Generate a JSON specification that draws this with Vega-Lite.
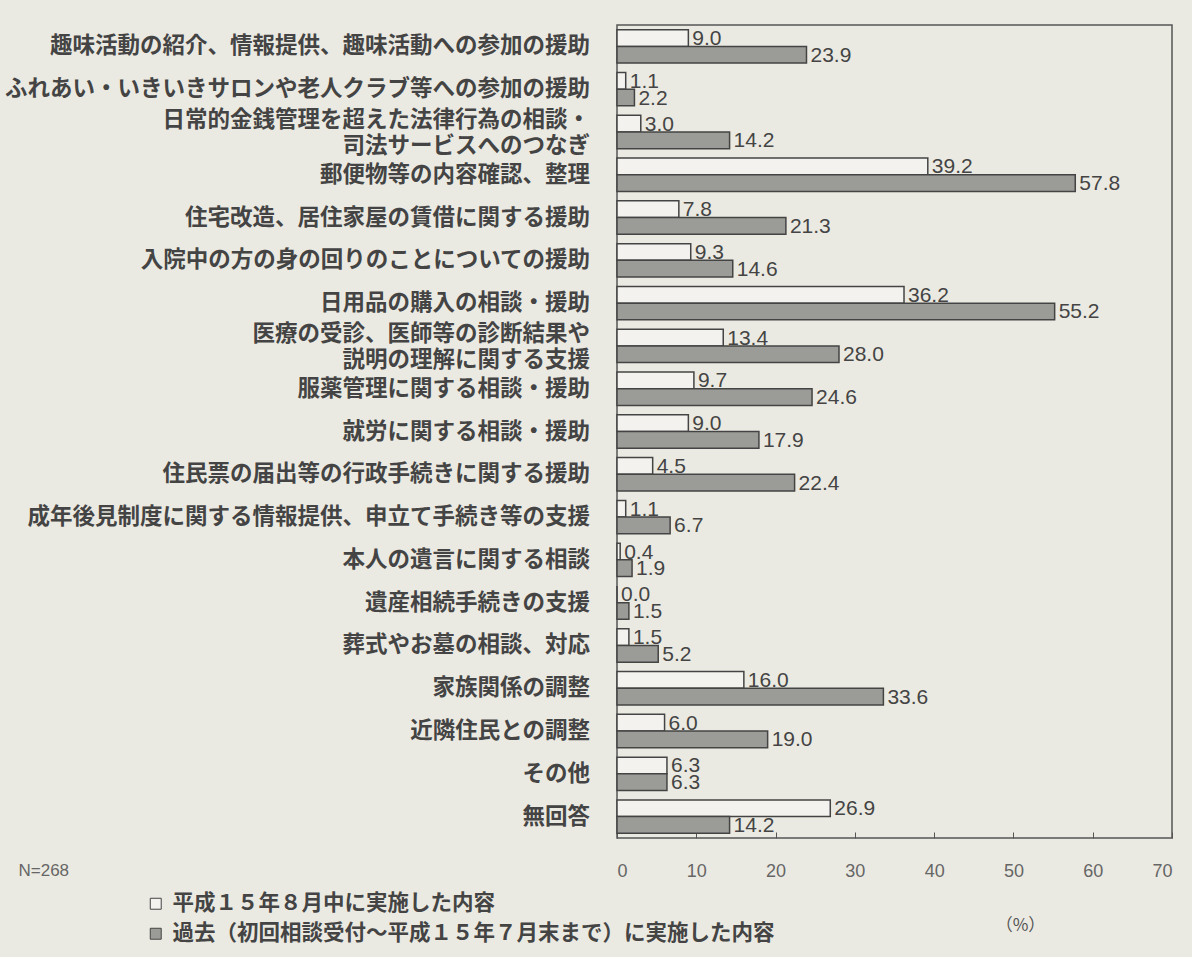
{
  "$schema": "https://vega.github.io/schema/vega-lite/v6.json",
  "autosize": {"type": "none"},
  "width": 555,
  "height": 813,
  "padding": {"left": 617, "top": 25, "right": 20, "bottom": 119},
  "background": "#ebeae2",
  "config": {"view": {"stroke": "#555555", "strokeWidth": 1.5}, "font": "Noto Sans CJK JP"},
  "data": {"values": [
    {"cat": "趣味活動の紹介、情報提供、趣味活動への参加の援助", "series": "平成１５年８月中に実施した内容", "value": 9.0},
    {"cat": "趣味活動の紹介、情報提供、趣味活動への参加の援助", "series": "過去（初回相談受付～平成１５年７月末まで）に実施した内容", "value": 23.9},
    {"cat": "ふれあい・いきいきサロンや老人クラブ等への参加の援助", "series": "平成１５年８月中に実施した内容", "value": 1.1},
    {"cat": "ふれあい・いきいきサロンや老人クラブ等への参加の援助", "series": "過去（初回相談受付～平成１５年７月末まで）に実施した内容", "value": 2.2},
    {"cat": "日常的金銭管理を超えた法律行為の相談・|司法サービスへのつなぎ", "series": "平成１５年８月中に実施した内容", "value": 3.0},
    {"cat": "日常的金銭管理を超えた法律行為の相談・|司法サービスへのつなぎ", "series": "過去（初回相談受付～平成１５年７月末まで）に実施した内容", "value": 14.2},
    {"cat": "郵便物等の内容確認、整理", "series": "平成１５年８月中に実施した内容", "value": 39.2},
    {"cat": "郵便物等の内容確認、整理", "series": "過去（初回相談受付～平成１５年７月末まで）に実施した内容", "value": 57.8},
    {"cat": "住宅改造、居住家屋の賃借に関する援助", "series": "平成１５年８月中に実施した内容", "value": 7.8},
    {"cat": "住宅改造、居住家屋の賃借に関する援助", "series": "過去（初回相談受付～平成１５年７月末まで）に実施した内容", "value": 21.3},
    {"cat": "入院中の方の身の回りのことについての援助", "series": "平成１５年８月中に実施した内容", "value": 9.3},
    {"cat": "入院中の方の身の回りのことについての援助", "series": "過去（初回相談受付～平成１５年７月末まで）に実施した内容", "value": 14.6},
    {"cat": "日用品の購入の相談・援助", "series": "平成１５年８月中に実施した内容", "value": 36.2},
    {"cat": "日用品の購入の相談・援助", "series": "過去（初回相談受付～平成１５年７月末まで）に実施した内容", "value": 55.2},
    {"cat": "医療の受診、医師等の診断結果や|説明の理解に関する支援", "series": "平成１５年８月中に実施した内容", "value": 13.4},
    {"cat": "医療の受診、医師等の診断結果や|説明の理解に関する支援", "series": "過去（初回相談受付～平成１５年７月末まで）に実施した内容", "value": 28.0},
    {"cat": "服薬管理に関する相談・援助", "series": "平成１５年８月中に実施した内容", "value": 9.7},
    {"cat": "服薬管理に関する相談・援助", "series": "過去（初回相談受付～平成１５年７月末まで）に実施した内容", "value": 24.6},
    {"cat": "就労に関する相談・援助", "series": "平成１５年８月中に実施した内容", "value": 9.0},
    {"cat": "就労に関する相談・援助", "series": "過去（初回相談受付～平成１５年７月末まで）に実施した内容", "value": 17.9},
    {"cat": "住民票の届出等の行政手続きに関する援助", "series": "平成１５年８月中に実施した内容", "value": 4.5},
    {"cat": "住民票の届出等の行政手続きに関する援助", "series": "過去（初回相談受付～平成１５年７月末まで）に実施した内容", "value": 22.4},
    {"cat": "成年後見制度に関する情報提供、申立て手続き等の支援", "series": "平成１５年８月中に実施した内容", "value": 1.1},
    {"cat": "成年後見制度に関する情報提供、申立て手続き等の支援", "series": "過去（初回相談受付～平成１５年７月末まで）に実施した内容", "value": 6.7},
    {"cat": "本人の遺言に関する相談", "series": "平成１５年８月中に実施した内容", "value": 0.4},
    {"cat": "本人の遺言に関する相談", "series": "過去（初回相談受付～平成１５年７月末まで）に実施した内容", "value": 1.9},
    {"cat": "遺産相続手続きの支援", "series": "平成１５年８月中に実施した内容", "value": 0.0},
    {"cat": "遺産相続手続きの支援", "series": "過去（初回相談受付～平成１５年７月末まで）に実施した内容", "value": 1.5},
    {"cat": "葬式やお墓の相談、対応", "series": "平成１５年８月中に実施した内容", "value": 1.5},
    {"cat": "葬式やお墓の相談、対応", "series": "過去（初回相談受付～平成１５年７月末まで）に実施した内容", "value": 5.2},
    {"cat": "家族関係の調整", "series": "平成１５年８月中に実施した内容", "value": 16.0},
    {"cat": "家族関係の調整", "series": "過去（初回相談受付～平成１５年７月末まで）に実施した内容", "value": 33.6},
    {"cat": "近隣住民との調整", "series": "平成１５年８月中に実施した内容", "value": 6.0},
    {"cat": "近隣住民との調整", "series": "過去（初回相談受付～平成１５年７月末まで）に実施した内容", "value": 19.0},
    {"cat": "その他", "series": "平成１５年８月中に実施した内容", "value": 6.3},
    {"cat": "その他", "series": "過去（初回相談受付～平成１５年７月末まで）に実施した内容", "value": 6.3},
    {"cat": "無回答", "series": "平成１５年８月中に実施した内容", "value": 26.9},
    {"cat": "無回答", "series": "過去（初回相談受付～平成１５年７月末まで）に実施した内容", "value": 14.2}
  ]},
  "encoding": {
    "y": {
      "field": "cat", "type": "nominal", "sort": null,
      "scale": {"paddingInner": 0.22, "paddingOuter": 0.11},
      "axis": {
        "title": "N=268", "titleAngle": 0, "titleX": -599, "titleY": 845, "titleAlign": "left", "titleBaseline": "middle",
        "titleFont": "Liberation Sans", "titleFontSize": 17, "titleFontWeight": "normal", "titleColor": "#666666",
        "ticks": false, "domain": false, "labels": false
      }
    }
  },
  "layer": [
    {
      "mark": {"type": "bar", "stroke": "#444444", "strokeWidth": 1.5},
      "encoding": {
        "yOffset": {"field": "series", "type": "nominal", "sort": ["平成１５年８月中に実施した内容", "過去（初回相談受付～平成１５年７月末まで）に実施した内容"]},
        "x": {
          "field": "value", "type": "quantitative",
          "scale": {"domain": [0, 70]},
          "axis": {
            "values": [0, 10, 20, 30, 40, 50, 60, 70], "grid": false, "domain": false,
            "tickSize": -6, "tickColor": "#555555", "labelPadding": 30,
            "labelFont": "Liberation Sans", "labelFontSize": 18, "labelColor": "#666666",
            "title": "（%）", "titleX": 403, "titleY": 87, "titleAlign": "center", "titleBaseline": "middle",
            "titleFontSize": 17, "titleFontWeight": "normal", "titleColor": "#555555"
          }
        },
        "fill": {
          "field": "series", "type": "nominal",
          "sort": ["平成１５年８月中に実施した内容", "過去（初回相談受付～平成１５年７月末まで）に実施した内容"],
          "scale": {"range": ["#f3f2ee", "#9b9b97"]},
          "legend": {
            "orient": "none", "legendX": -472, "legendY": 868, "title": null,
            "symbolType": "square", "symbolSize": 120, "symbolStrokeColor": "#444444", "symbolStrokeWidth": 1,
            "labelFontSize": 21.5, "labelColor": "#444444", "labelFontWeight": "bold", "labelLimit": 0, "rowPadding": 7, "labelOffset": 6
          }
        }
      }
    },
    {
      "mark": {"type": "text", "align": "left", "baseline": "middle", "dx": 4, "dy": 1, "font": "Liberation Sans", "fontSize": 21, "fill": "#444444"},
      "encoding": {
        "yOffset": {"field": "series", "type": "nominal", "sort": ["平成１５年８月中に実施した内容", "過去（初回相談受付～平成１５年７月末まで）に実施した内容"]},
        "x": {"field": "value", "type": "quantitative"},
        "text": {"field": "value", "type": "quantitative", "format": ".1f"}
      }
    },
    {
      "transform": [{"filter": "datum.series == '平成１５年８月中に実施した内容' && indexof(datum.cat, '|') < 0"}],
      "mark": {"type": "text", "align": "right", "baseline": "middle", "dx": -27, "font": "Noto Sans CJK JP", "fontSize": 22.5, "fontWeight": "bold", "fill": "#444444"},
      "encoding": {
        "x": {"datum": 0, "type": "quantitative"},
        "text": {"field": "cat", "type": "nominal"}
      }
    },
    {
      "transform": [{"filter": "datum.series == '平成１５年８月中に実施した内容' && indexof(datum.cat, '|') >= 0"}],
      "mark": {"type": "text", "align": "right", "baseline": "middle", "dx": -27, "dy": -12, "lineBreak": "|", "lineHeight": 26, "font": "Noto Sans CJK JP", "fontSize": 22.5, "fontWeight": "bold", "fill": "#444444"},
      "encoding": {
        "x": {"datum": 0, "type": "quantitative"},
        "text": {"field": "cat", "type": "nominal"}
      }
    }
  ]
}
